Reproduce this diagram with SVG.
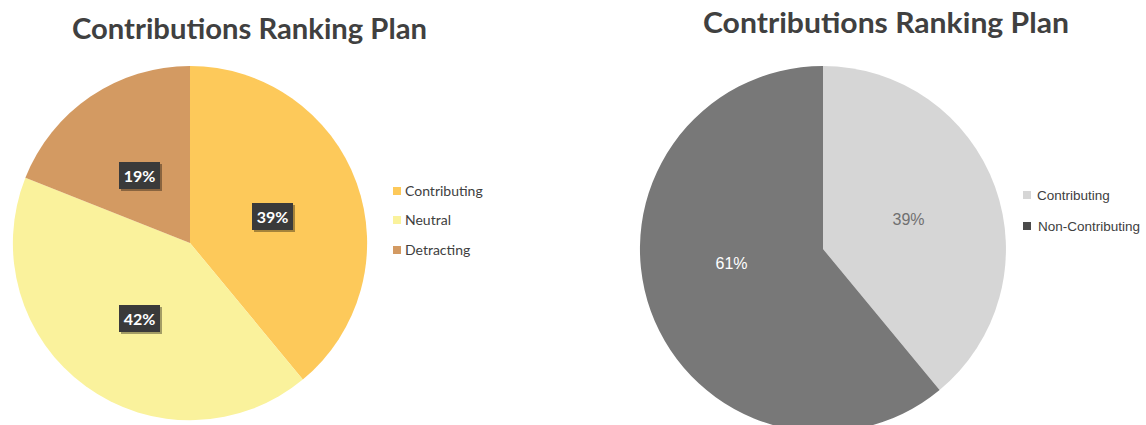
<svg xmlns="http://www.w3.org/2000/svg" width="1146" height="425" viewBox="0 0 1146 425">
<style>
.title{font-family:Lato,"Open Sans","Liberation Sans",sans-serif;font-weight:bold;font-size:28px;fill:#404040;}
.leg{font-family:Lato,"Liberation Sans",sans-serif;font-size:14px;fill:#404040;}
.leg2{font-family:"Liberation Sans",Arial,sans-serif;font-size:13.5px;fill:#404040;}
.lbl{font-family:Lato,"Liberation Sans",sans-serif;font-weight:bold;font-size:16px;fill:#ffffff;text-anchor:middle;}
.lbl2{font-family:"Liberation Sans",Arial,sans-serif;font-size:16px;text-anchor:middle;}
.box{fill:#3a3a3a;}
.shadow{fill:#000000;opacity:0.35;}
</style>
<rect width="1146" height="425" fill="#ffffff"/>

<g id="chart-left">
  <text class="title" x="249.5" y="39" text-anchor="middle" textLength="355" lengthAdjust="spacingAndGlyphs">Contributions Ranking Plan</text>
  <g id="slice-left-contributing">
    <path d="M190,243 L190,66 A177,177 0 0 1 302.8,379.5 Z" fill="#FDC95A"/>
  </g>
  <g id="slice-left-neutral">
    <path d="M190,243 L302.8,379.5 A177,177 0 0 1 25.4,177.8 Z" fill="#FAF29C"/>
  </g>
  <g id="slice-left-detracting">
    <path d="M190,243 L25.4,177.8 A177,177 0 0 1 190,66 Z" fill="#D39A62"/>
  </g>
  <g id="label-19">
    <rect class="shadow" x="121" y="164" width="41" height="27"/>
    <rect class="box" x="119" y="162" width="41" height="27"/>
    <text class="lbl" x="139.5" y="181.5">19%</text>
  </g>
  <g id="label-39">
    <rect class="shadow" x="254" y="205" width="41" height="27"/>
    <rect class="box" x="252" y="203" width="41" height="27"/>
    <text class="lbl" x="272.5" y="222.5">39%</text>
  </g>
  <g id="label-42">
    <rect class="shadow" x="121" y="307" width="41" height="27"/>
    <rect class="box" x="119" y="305" width="41" height="27"/>
    <text class="lbl" x="139.5" y="324.5">42%</text>
  </g>
  <g id="legend-left">
    <rect x="393" y="187" width="8" height="8" fill="#FDC95A"/>
    <text class="leg" x="405" y="196">Contributing</text>
    <rect x="393" y="216" width="8" height="8" fill="#FAF29C"/>
    <text class="leg" x="405" y="225">Neutral</text>
    <rect x="393" y="246" width="8" height="8" fill="#D39A62"/>
    <text class="leg" x="405" y="255">Detracting</text>
  </g>
</g>

<g id="chart-right">
  <text class="title" x="886" y="33" text-anchor="middle" textLength="366" lengthAdjust="spacingAndGlyphs">Contributions Ranking Plan</text>
  <g id="slice-right-contributing">
    <path d="M823,249 L823,66 A183,183 0 0 1 939.6,390 Z" fill="#D6D6D6"/>
  </g>
  <g id="slice-right-noncontributing">
    <path d="M823,249 L939.6,390 A183,183 0 1 1 823,66 Z" fill="#787878"/>
  </g>
  <text class="lbl2" x="908.5" y="225" fill="#707070">39%</text>
  <text class="lbl2" x="731.5" y="269" fill="#ffffff">61%</text>
  <g id="legend-right">
    <rect x="1023" y="191" width="8" height="8" fill="#D6D6D6"/>
    <text class="leg2" x="1037" y="200">Contributing</text>
    <rect x="1023" y="222" width="8" height="8" fill="#4a4a4a"/>
    <text class="leg2" x="1038" y="231">Non-Contributing</text>
  </g>
</g>
</svg>
